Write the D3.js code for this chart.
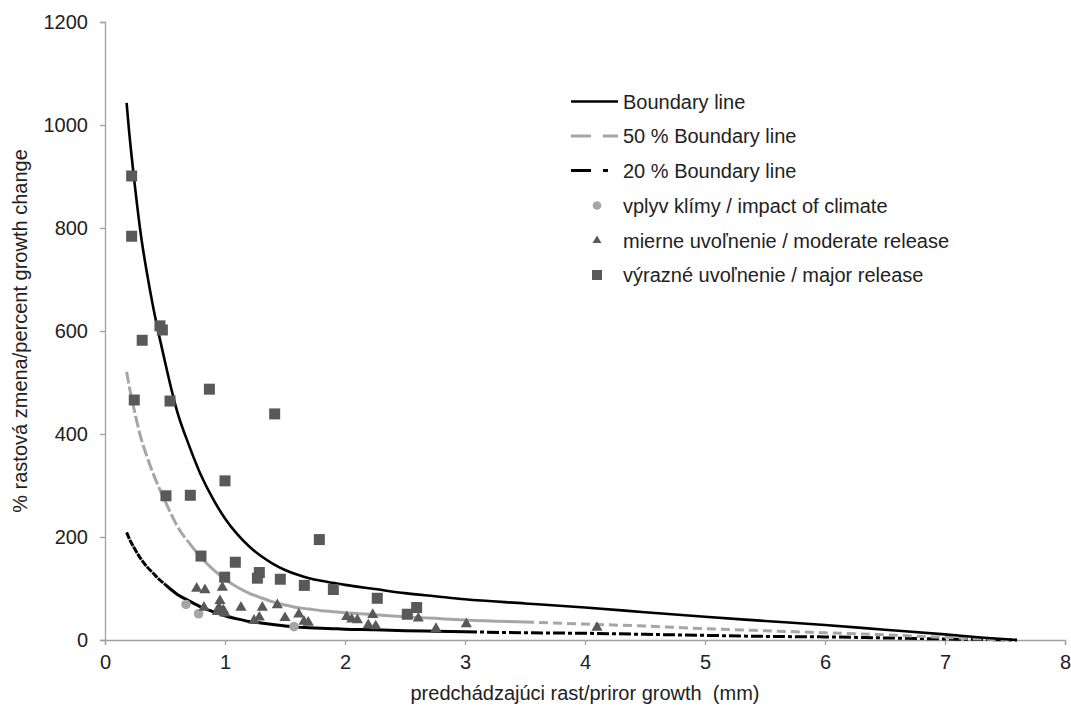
<!DOCTYPE html>
<html><head><meta charset="utf-8">
<script src="https://cdn.jsdelivr.net/npm/d3@7"></script>
<style>
html,body{margin:0;padding:0;background:#fff;}
svg text{font-family:"Liberation Sans",Arial,sans-serif;fill:#222;}
</style></head>
<body>
<svg id="chart" width="1071" height="711"></svg>
<script>
// ---- data ----
const xTicks = [0, 1, 2, 3, 4, 5, 6, 7, 8];
const yTicks = [0, 200, 400, 600, 800, 1000, 1200];

const curveX   = [0.18,0.2,0.25,0.3,0.35,0.4,0.45,0.5,0.55,0.6,0.7,0.8,0.9,1.0,1.1,1.2,1.3,1.4,1.5,1.6,1.7,1.8,1.9,2.0,2.25,2.5,2.75,3.0,3.5,4.0,4.5,5.0,5.5,6.0,6.5,7.0,7.3,7.6];
const boundary = [1043,990,880,785,712,648,592,540,490,445,378,320,274,236,206,182,163,148,136,127,120,115,111,107,99,91,85,79,71,63,54,45,37,29,20,11,5,0];
const boundary50 = [521,495,440,392,356,324,296,270,245,222,189,160,137,118,103,91,82,74,68,63,60,57,55,53,49,45,42,39,35,31,27,22,18,14,10,5,2,0];
const boundary20 = [209,198,176,157,142,130,118,108,98,89,76,64,55,47,41,36,33,30,27,25,24,23,22,21,20,18,17,16,14,13,11,9,7,6,4,2,1,0];

const climateX = [0.675, 0.78, 1.575];
const climateY = [69, 51, 26];

const moderateX = [0.764,0.833,0.978,0.825,0.958,0.95,0.986,0.936,1.0,1.133,1.311,1.436,1.286,1.242,1.5,1.615,1.658,1.694,2.014,2.056,2.103,2.231,2.194,2.256,2.611,2.758,3.011,4.10];
const moderateY = [100,97,102,63,76,63,58,55,52,63,63,68,44,38,43,50,36,34,45,40,39,49,29,27,42,22,31,24];

const majorX = [0.222,0.222,0.458,0.478,0.31,0.244,0.542,0.87,1.414,1.0,0.508,0.711,0.80,1.086,0.997,1.286,1.27,1.461,1.661,1.903,1.786,2.269,2.597,2.519];
const majorY = [901,784,610,602,582,466,464,487,439,309,280,281,163,151,122,131,120,118,106,98,195,81,63,50];

const legendLabels = ["Boundary line","50 % Boundary line","20 % Boundary line","vplyv klímy / impact of climate","mierne uvoľnenie / moderate release","výrazné uvoľnenie / major release"];
const xTitle = "predchádzajúci rast/priror growth  (mm)";
const yTitle = "% rastová zmena/percent growth change";

// ---- drawing ----
const svg = d3.select("#chart");
const x = d3.scaleLinear().domain([0, 8]).range([105, 1065]);
const y = d3.scaleLinear().domain([0, 1200]).range([640, 22]);
const axisColor = "#a0a0a0";
const markColor = "#595959";
const lightColor = "#a6a6a6";
const FS = 20;

// axes
const xAxis = svg.append("g").attr("transform","translate(0,640)")
  .call(d3.axisBottom(x).tickValues(xTicks).tickSize(5).tickPadding(10).tickFormat(d3.format("d")));
const yAxis = svg.append("g").attr("transform","translate(105,0)")
  .call(d3.axisLeft(y).tickValues(yTicks).tickSize(5).tickPadding(12).tickFormat(d3.format("d")));
[xAxis, yAxis].forEach(g => {
  g.select(".domain").attr("stroke", axisColor).attr("stroke-width", 1.3);
  g.selectAll(".tick line").attr("stroke", axisColor).attr("stroke-width", 1.3);
  g.selectAll(".tick text").attr("font-size", FS).attr("fill", "#222")
    .attr("font-family", '"Liberation Sans",Arial,sans-serif');
});

svg.append("text").attr("x", 585).attr("y", 700).attr("text-anchor","middle")
  .style("white-space", "pre").attr("xml:space", "preserve")
  .attr("font-size", FS).text(xTitle);
svg.append("text").attr("transform","translate(27,331) rotate(-90)").attr("text-anchor","middle")
  .attr("font-size", FS).text(yTitle);

// curves
const pts = vals => curveX.map((cx, i) => [cx, vals[i]]);
const line = d3.line().x(d => x(d[0])).y(d => y(d[1])).curve(d3.curveMonotoneX);
function drawPart(vals, from, to, color, width, dash) {
  const p = pts(vals).filter(d => d[0] >= from && d[0] <= to);
  svg.append("path").attr("d", line(p)).attr("fill","none")
    .attr("stroke", color).attr("stroke-width", width)
    .attr("stroke-dasharray", dash).attr("stroke-linecap","butt");
}
// 20% boundary line
drawPart(boundary20, 0.18, 0.5, "#000", 3, "7,1");
drawPart(boundary20, 0.5, 3.0, "#000", 3, null);
drawPart(boundary20, 3.0, 7.6, "#000", 3, "12,3,4,3");
// 50% boundary line
drawPart(boundary50, 0.18, 0.7, lightColor, 3, "12,3");
drawPart(boundary50, 0.7, 3.5, lightColor, 3, null);
drawPart(boundary50, 3.5, 7.6, lightColor, 3, "9,5");
// boundary line
drawPart(boundary, 0.18, 7.6, "#000", 2.6, null);

// markers
const tri = d3.symbol().type(d3.symbolTriangle).size(54);
svg.append("g").selectAll("circle").data(climateX).join("circle")
  .attr("cx", d => x(d)).attr("cy", (d, i) => y(climateY[i])).attr("r", 4.8).attr("fill", lightColor);
svg.append("g").selectAll("path").data(moderateX).join("path")
  .attr("d", tri).attr("fill", markColor)
  .attr("transform", (d, i) => `translate(${x(d)},${y(moderateY[i])})`);
svg.append("g").selectAll("rect").data(majorX).join("rect")
  .attr("x", d => x(d) - 5.5).attr("y", (d, i) => y(majorY[i]) - 5.5)
  .attr("width", 11).attr("height", 11).attr("fill", markColor);

// legend
const lg = svg.append("g");
const rowY = [101.5, 136, 170.5, 205.5, 240.5, 275];
const lineStyles = [
  {c:"#000", w:2.6, dash:null},
  {c:lightColor, w:3, dash:"20,12"},
  {c:"#000", w:3, dash:"20,12,5,12"}
];
lineStyles.forEach((s, i) => {
  lg.append("line").attr("x1", 571).attr("x2", 618).attr("y1", rowY[i]).attr("y2", rowY[i])
    .attr("stroke", s.c).attr("stroke-width", s.w).attr("stroke-dasharray", s.dash);
});
lg.append("circle").attr("cx", 597).attr("cy", rowY[3]).attr("r", 4.3).attr("fill", lightColor);
lg.append("path").attr("d", d3.symbol().type(d3.symbolTriangle).size(34)())
  .attr("transform", `translate(597,${rowY[4]})`).attr("fill", markColor);
lg.append("rect").attr("x", 592).attr("y", rowY[5] - 5).attr("width", 10).attr("height", 10).attr("fill", markColor);
legendLabels.forEach((t, i) => {
  lg.append("text").attr("x", 623).attr("y", rowY[i]).attr("dy", "0.35em")
    .attr("font-size", FS).text(t);
});
</script>
</body></html>
